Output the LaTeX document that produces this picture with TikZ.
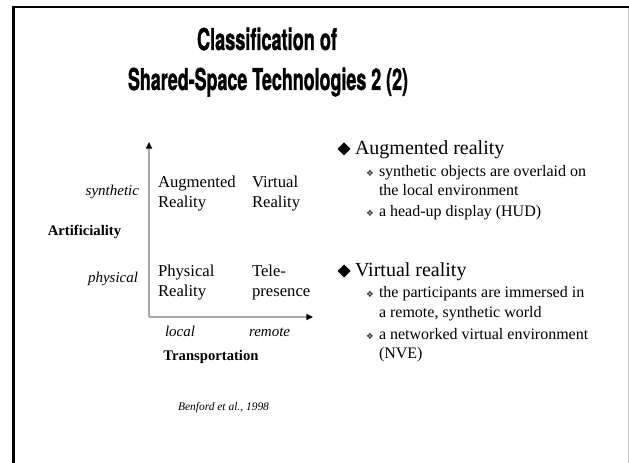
\documentclass[tikz,border=0pt]{standalone}
\usepackage{fontspec}
\usepackage{graphicx}
\usetikzlibrary{arrows.meta}
\setmainfont{Liberation Serif}
\newfontfamily\titlefont[BoldFeatures={FakeBold=1.5}]{TeX Gyre Heros}
\newfontfamily\symfont{DejaVu Sans}
\definecolor{axisgray}{HTML}{A8A8A8}
\definecolor{framegray}{HTML}{C8C8C8}
\begin{document}
\begin{tikzpicture}[x=0.75pt,y=-0.75pt,
  every node/.style={inner sep=0pt, outer sep=0pt},
  ttl/.style={anchor=base},
  quad/.style={anchor=base west, font=\fontsize{12.5}{15}\selectfont},
  axlab/.style={font=\fontsize{11.25}{13}\selectfont\itshape},
  boldlab/.style={font=\fontsize{11}{13}\selectfont\bfseries},
  mainb/.style={anchor=base west, font=\fontsize{15}{18}\selectfont},
  subb/.style={anchor=base west, font=\fontsize{12}{14}\selectfont},
  subsym/.style={font=\symfont\fontsize{6.5}{7}\selectfont, text=black!80},
  axis/.style={axisgray, line width=1.5pt, -{Triangle[color=black,length=5pt,width=4.5pt]}}
]
\useasboundingbox (0,0) rectangle (629,463);
% frame
\draw[framegray, line width=0.75pt] (628,8) -- (628,463);
\draw[black, line width=1.5pt] (12,7.5) -- (629,7.5);
\draw[black, line width=2.25pt] (13.5,6.75) -- (13.5,463);
% title
\node[ttl] (t1) at (267,50) {\resizebox{105pt}{\height}{\titlefont\bfseries\fontsize{22.5}{24}\selectfont Classification of}};
\node[ttl] (t2) at (268,90) {\resizebox{210pt}{\height}{\titlefont\bfseries\fontsize{22.5}{24}\selectfont Shared-Space Technologies 2 (2)}};
% axes
\coordinate (o) at (149,317);
\coordinate (ytip) at (149,142);
\coordinate (xtip) at (313,317);
\draw[axis] (o) -- (ytip);
\draw[axis] (o) -- (xtip);
% quadrants
\node[quad] (ar1) at (158,188) {Augmented};
\node[quad] (ar2) at (158,208) {Reality};
\node[quad] (vr1) at (252,188) {Virtual};
\node[quad] (vr2) at (252,208) {Reality};
\node[quad] (pr1) at (158,277) {Physical};
\node[quad] (pr2) at (158,297) {Reality};
\node[quad] (tp1) at (252,277) {Tele-};
\node[quad] (tp2) at (252,297) {presence};
% axis labels
\node[axlab, anchor=base east] (syn) at (139,196) {synthetic};
\node[axlab, anchor=base east] (phy) at (138,283) {physical};
\node[boldlab, anchor=base] (art) at (84.5,236) {Artificiality};
\node[axlab, anchor=base west] (loc) at (165,337) {local};
\node[axlab, anchor=base west] (rem) at (249,337) {remote};
\node[boldlab, anchor=base] (trn) at (211,361) {Transportation};
\node[anchor=base west, font=\fontsize{8.6}{10}\selectfont\itshape] (ben) at (178,411) {Benford et al., 1998};
% right bullets
\fill (337.5,149) -- (344,142.5) -- (350.5,149) -- (344,155.5) -- cycle;
\node[mainb] (m1) at (355,155) {Augmented reality};
\node[subsym] (s1) at (370,173) {❖};
\node[subb] (l1) at (379,177) {synthetic objects are overlaid on};
\node[subb] (l2) at (379,196) {the local environment};
\node[subsym] (s2) at (370,213) {❖};
\node[subb] (l3) at (379,217) {a head-up display (HUD)};
\fill (337.5,271) -- (344,264.5) -- (350.5,271) -- (344,277.5) -- cycle;
\node[mainb] (m2) at (355,277) {Virtual reality};
\node[subsym] (s3) at (370,294) {❖};
\node[subb] (l4) at (379,298) {the participants are immersed in};
\node[subb] (l5) at (379,318) {a remote, synthetic world};
\node[subsym] (s4) at (370,336) {❖};
\node[subb] (l6) at (379,340) {a networked virtual environment};
\node[subb] (l7) at (379,359) {(NVE)};
\end{tikzpicture}
\end{document}
